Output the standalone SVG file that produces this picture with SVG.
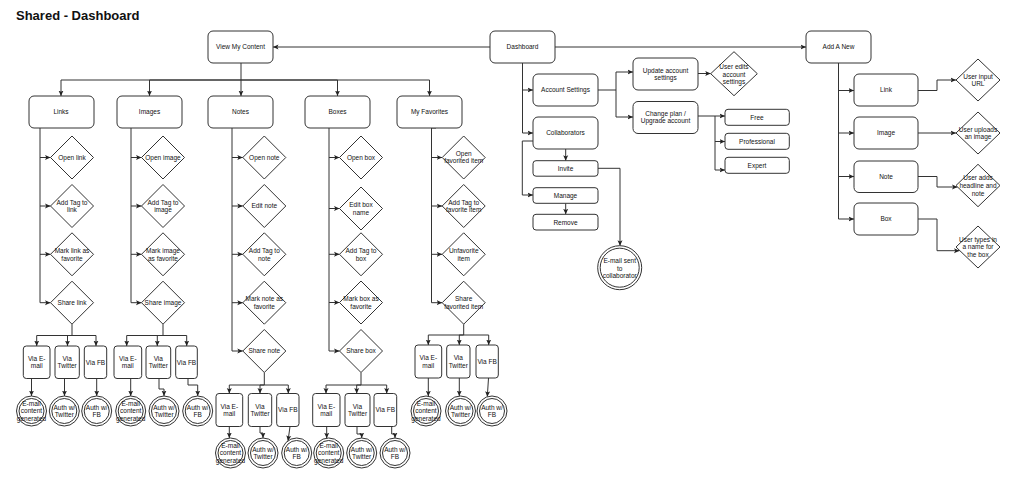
<svg xmlns="http://www.w3.org/2000/svg" width="1012" height="481" viewBox="0 0 1012 481">
<defs>
<marker id="a" markerWidth="6" markerHeight="6" refX="5.5" refY="3" orient="auto" markerUnits="userSpaceOnUse"><path d="M0,0.5 L5.5,3 L0,5.5 L1.3,3 Z" fill="#222"/></marker>
<style>
.b{fill:#fff;stroke:#333;stroke-width:1}
.e{fill:none;stroke:#333;stroke-width:1}
.m{marker-end:url(#a)}
text{font-family:"Liberation Sans",Arial,Helvetica,sans-serif;font-size:6.5px;fill:#111;text-anchor:middle}
text.title{font-size:13px;font-weight:bold;text-anchor:start}
</style>
</defs>
<rect width="1012" height="481" fill="#fff"/>
<text class="title" x="16" y="19.5">Shared - Dashboard</text>

<g id="connectors">
<path class="e m" d="M490,47 H273"/>
<path class="e m" d="M555,47 H806"/>
<path class="e m" d="M241,63 V96"/>
<path class="e m" d="M241,80 H61 V96"/>
<path class="e m" d="M241,80 H149.5 V96"/>
<path class="e m" d="M241,80 H337.5 V96"/>
<path class="e m" d="M241,80 H429.5 V96"/>
<!-- links -->
<path class="e" d="M40,128 V302.7"/>
<path class="e m" d="M40,157.5 H50.5"/><path class="e m" d="M40,206 H50.5"/><path class="e m" d="M40,254.3 H50.5"/><path class="e m" d="M40,302.7 H50.5"/>
<!-- images -->
<path class="e" d="M131,128 V302.7"/>
<path class="e m" d="M131,157.5 H141.5"/><path class="e m" d="M131,206 H141.5"/><path class="e m" d="M131,254.3 H141.5"/><path class="e m" d="M131,302.7 H141.5"/>
<!-- notes -->
<path class="e" d="M232,128 V351"/>
<path class="e m" d="M232,157.5 H242.8"/><path class="e m" d="M232,206 H242.8"/><path class="e m" d="M232,254.3 H242.8"/><path class="e m" d="M232,302.7 H242.8"/><path class="e m" d="M232,351 H242.8"/>
<!-- boxes -->
<path class="e" d="M329,128 V351"/>
<path class="e m" d="M329,157.5 H339.5"/><path class="e m" d="M329,208.5 H339.5"/><path class="e m" d="M329,254.3 H339.5"/><path class="e m" d="M329,302.5 H339.5"/><path class="e m" d="M329,351 H339.5"/>
<!-- favorites -->
<path class="e" d="M436,128 H431.5 V302.7"/>
<path class="e m" d="M431.5,157.5 H442.2"/><path class="e m" d="M431.5,206 H442.2"/><path class="e m" d="M431.5,254.3 H442.2"/><path class="e m" d="M431.5,302.7 H442.2"/>
<!-- share links -->
<path class="e m" d="M72,324.2 V335.5 H36.7 V346"/>
<path class="e m" d="M72,335.5 H67.5 V346"/>
<path class="e m" d="M72,335.5 H96 V346"/>
<path class="e m" d="M31.5,378.5 V396"/>
<path class="e m" d="M64.5,378.5 V396"/>
<path class="e m" d="M96.7,378.5 V396"/>
<!-- share images -->
<path class="e m" d="M163,324.2 V335.5 H126.7 V346"/>
<path class="e m" d="M163,335.5 H157.3 V346"/>
<path class="e m" d="M163,335.5 H186.7 V346"/>
<path class="e m" d="M130.7,378.5 V396"/>
<path class="e m" d="M159,378.5 V389 H164 V396"/>
<path class="e m" d="M188,378.5 V385 H197.7 V396"/>
<!-- share notes -->
<path class="e m" d="M264.3,372.5 V385 H229.3 V393.5"/>
<path class="e m" d="M264.3,385 H260 V393.5"/>
<path class="e m" d="M264.3,385 H288.3 V393.5"/>
<path class="e m" d="M229.3,426.5 V438"/>
<path class="e m" d="M260,426.5 V433 H263 V438"/>
<path class="e m" d="M290,426.5 L288,441"/>
<!-- share boxes -->
<path class="e m" d="M361,372.5 V385 H326 V393.5"/>
<path class="e m" d="M361,385 H356.7 V393.5"/>
<path class="e m" d="M361,385 H386.7 V393.5"/>
<path class="e m" d="M326.7,426.5 V438.2"/>
<path class="e m" d="M357,426.5 V434 H361.7 V438"/>
<path class="e m" d="M391.7,426.5 V434 H395 V438"/>
<!-- share favorites -->
<path class="e m" d="M463.7,324.2 V335 H428.3 V345"/>
<path class="e m" d="M463.7,335 H459.3 V345"/>
<path class="e m" d="M463.7,335 H488.7 V345"/>
<path class="e m" d="M428.3,378 V396.2"/>
<path class="e m" d="M459.3,378 V396"/>
<path class="e m" d="M488.5,378 L487.3,396.8"/>
<!-- dashboard side -->
<path class="e m" d="M522.5,63 V133 H533"/>
<path class="e m" d="M522.5,90 H533"/>
<path class="e m" d="M598,90 H616 V72 H633"/>
<path class="e m" d="M616,90 V117 H633"/>
<path class="e m" d="M698,73.5 H710.7"/>
<path class="e m" d="M698,116 H725"/>
<path class="e m" d="M715,116 V170 H725"/>
<path class="e m" d="M715,141.5 H725"/>
<path class="e m" d="M565.7,149 V160.7"/>
<path class="e m" d="M533,141 H522.3 V195 H533"/>
<path class="e m" d="M565.7,203.3 V214.3"/>
<path class="e m" d="M598,168.3 H620 V245.7"/>
<!-- add a new side -->
<path class="e m" d="M838.5,63 V219 H854"/>
<path class="e m" d="M838.5,90.5 H854"/>
<path class="e m" d="M838.5,133 H854"/>
<path class="e m" d="M838.5,176.5 H854"/>
<path class="e m" d="M918,90.5 H937 V80 H956"/>
<path class="e m" d="M918,133 H956"/>
<path class="e m" d="M918,176.5 H937 V187 H957.5"/>
<path class="e m" d="M918,219 H937 V250.7 H959.5"/>
</g>

<g id="view-my-content"><rect class="b" x="208" y="31" width="65" height="32" rx="5"/><text x="240.5" y="49.3">View My Content</text></g>
<g id="dashboard"><rect class="b" x="490" y="31" width="65" height="32" rx="5"/><text x="522.5" y="49.3">Dashboard</text></g>
<g id="add-a-new"><rect class="b" x="806" y="31" width="65" height="32" rx="5"/><text x="838.5" y="49.3">Add A New</text></g>

<g id="links"><rect class="b" x="29" y="96" width="65" height="32" rx="5"/><text x="61" y="114.3">Links</text></g>
<g id="images"><rect class="b" x="117" y="96" width="65" height="32" rx="5"/><text x="149.5" y="114.3">Images</text></g>
<g id="notes"><rect class="b" x="208" y="96" width="65" height="32" rx="5"/><text x="240.5" y="114.3">Notes</text></g>
<g id="boxes"><rect class="b" x="305" y="96" width="65" height="32" rx="5"/><text x="337.5" y="114.3">Boxes</text></g>
<g id="my-favorites"><rect class="b" x="397" y="96" width="65" height="32" rx="5"/><text x="429.5" y="114.3">My Favorites</text></g>

<!-- links diamonds -->
<g id="open-link"><polygon class="b" points="72,136 93.5,157.5 72,179 50.5,157.5"/><text x="72" y="159.8">Open link</text></g>
<g id="tag-link"><polygon class="b" points="72,184.5 93.5,206 72,227.5 50.5,206"/><text x="72" y="204.5">Add Tag to</text><text x="72" y="212.2">link</text></g>
<g id="fav-link"><polygon class="b" points="72,232.8 93.5,254.3 72,275.8 50.5,254.3"/><text x="72" y="252.8">Mark link as</text><text x="72" y="260.5">favorite</text></g>
<g id="share-link"><polygon class="b" points="72,281.2 93.5,302.7 72,324.2 50.5,302.7"/><text x="72" y="305">Share link</text></g>

<!-- images diamonds -->
<g id="open-image"><polygon class="b" points="163,136 184.5,157.5 163,179 141.5,157.5"/><text x="163" y="159.8">Open image</text></g>
<g id="tag-image"><polygon class="b" points="163,184.5 184.5,206 163,227.5 141.5,206"/><text x="163" y="204.5">Add Tag to</text><text x="163" y="212.2">image</text></g>
<g id="fav-image"><polygon class="b" points="163,232.8 184.5,254.3 163,275.8 141.5,254.3"/><text x="163" y="252.8">Mark image</text><text x="163" y="260.5">as favorite</text></g>
<g id="share-image"><polygon class="b" points="163,281.2 184.5,302.7 163,324.2 141.5,302.7"/><text x="163" y="305">Share image</text></g>

<!-- notes diamonds -->
<g id="open-note"><polygon class="b" points="264.3,136 285.8,157.5 264.3,179 242.8,157.5"/><text x="264.3" y="159.8">Open note</text></g>
<g id="edit-note"><polygon class="b" points="264.3,184.5 285.8,206 264.3,227.5 242.8,206"/><text x="264.3" y="208.3">Edit note</text></g>
<g id="tag-note"><polygon class="b" points="264.3,232.8 285.8,254.3 264.3,275.8 242.8,254.3"/><text x="264.3" y="252.8">Add Tag to</text><text x="264.3" y="260.5">note</text></g>
<g id="fav-note"><polygon class="b" points="264.3,281.2 285.8,302.7 264.3,324.2 242.8,302.7"/><text x="264.3" y="301.2">Mark note as</text><text x="264.3" y="308.9">favorite</text></g>
<g id="share-note"><polygon class="b" points="264.3,329.5 285.8,351 264.3,372.5 242.8,351"/><text x="264.3" y="353.3">Share note</text></g>

<!-- boxes diamonds -->
<g id="open-box"><polygon class="b" points="361,136 382.5,157.5 361,179 339.5,157.5"/><text x="361" y="159.8">Open box</text></g>
<g id="edit-box"><polygon class="b" points="361,187 382.5,208.5 361,230 339.5,208.5"/><text x="361" y="207">Edit box</text><text x="361" y="214.7">name</text></g>
<g id="tag-box"><polygon class="b" points="361,232.8 382.5,254.3 361,275.8 339.5,254.3"/><text x="361" y="252.8">Add Tag to</text><text x="361" y="260.5">box</text></g>
<g id="fav-box"><polygon class="b" points="361,281 382.5,302.5 361,324 339.5,302.5"/><text x="361" y="301">Mark box as</text><text x="361" y="308.7">favorite</text></g>
<g id="share-box"><polygon class="b" points="361,329.5 382.5,351 361,372.5 339.5,351"/><text x="361" y="353.3">Share box</text></g>

<!-- favorites diamonds -->
<g id="open-fav"><polygon class="b" points="463.7,136 485.2,157.5 463.7,179 442.2,157.5"/><text x="463.7" y="155.6">Open</text><text x="463.7" y="163.3">favorited item</text></g>
<g id="tag-fav"><polygon class="b" points="463.7,184.5 485.2,206 463.7,227.5 442.2,206"/><text x="463.7" y="204.5">Add Tag to</text><text x="463.7" y="212.2">favorite item</text></g>
<g id="unfav"><polygon class="b" points="463.7,232.8 485.2,254.3 463.7,275.8 442.2,254.3"/><text x="463.7" y="252.8">Unfavorite</text><text x="463.7" y="260.5">item</text></g>
<g id="share-fav"><polygon class="b" points="463.7,281.2 485.2,302.7 463.7,324.2 442.2,302.7"/><text x="463.7" y="301.2">Share</text><text x="463.7" y="308.9">favorited item</text></g>

<!-- share links group -->
<g id="link-email"><rect class="b" x="23.3" y="346" width="26.7" height="32.5" rx="3"/><text x="36.7" y="360.7">Via E-</text><text x="36.7" y="368.4">mail</text></g>
<g id="link-twitter"><rect class="b" x="55" y="346" width="24.3" height="32.5" rx="3"/><text x="67.2" y="360.7">Via</text><text x="67.2" y="368.4">Twitter</text></g>
<g id="link-fb"><rect class="b" x="84.3" y="346" width="22.4" height="32.5" rx="3"/><text x="95.5" y="364.5">Via FB</text></g>
<g id="link-email-c"><circle class="b" cx="31.5" cy="411" r="15"/><circle class="b" cx="31.5" cy="411" r="12.5"/><text x="31.5" y="405.6">E-mail</text><text x="31.5" y="413.3">content</text><text x="31.5" y="421">generated</text></g>
<g id="link-twitter-c"><circle class="b" cx="64.3" cy="411" r="15"/><circle class="b" cx="64.3" cy="411" r="12.5"/><text x="64.3" y="409.5">Auth w/</text><text x="64.3" y="417.2">Twitter</text></g>
<g id="link-fb-c"><circle class="b" cx="96.7" cy="411" r="15"/><circle class="b" cx="96.7" cy="411" r="12.5"/><text x="96.7" y="409.5">Auth w/</text><text x="96.7" y="417.2">FB</text></g>

<!-- share images group -->
<g id="image-email"><rect class="b" x="114" y="346" width="27.7" height="32.5" rx="3"/><text x="127.8" y="360.7">Via E-</text><text x="127.8" y="368.4">mail</text></g>
<g id="image-twitter"><rect class="b" x="146" y="346" width="24.7" height="32.5" rx="3"/><text x="158.3" y="360.7">Via</text><text x="158.3" y="368.4">Twitter</text></g>
<g id="image-fb"><rect class="b" x="175.7" y="346" width="21.6" height="32.5" rx="3"/><text x="186.5" y="364.5">Via FB</text></g>
<g id="image-email-c"><circle class="b" cx="130.7" cy="411" r="15"/><circle class="b" cx="130.7" cy="411" r="12.5"/><text x="130.7" y="405.6">E-mail</text><text x="130.7" y="413.3">content</text><text x="130.7" y="421">generated</text></g>
<g id="image-twitter-c"><circle class="b" cx="164" cy="411" r="15"/><circle class="b" cx="164" cy="411" r="12.5"/><text x="164" y="409.5">Auth w/</text><text x="164" y="417.2">Twitter</text></g>
<g id="image-fb-c"><circle class="b" cx="197.7" cy="411" r="15"/><circle class="b" cx="197.7" cy="411" r="12.5"/><text x="197.7" y="409.5">Auth w/</text><text x="197.7" y="417.2">FB</text></g>

<!-- share notes group -->
<g id="note-email"><rect class="b" x="216" y="393.5" width="26.7" height="33" rx="3"/><text x="229.3" y="408.5">Via E-</text><text x="229.3" y="416.2">mail</text></g>
<g id="note-twitter"><rect class="b" x="248.3" y="393.5" width="23.4" height="33" rx="3"/><text x="260" y="408.5">Via</text><text x="260" y="416.2">Twitter</text></g>
<g id="note-fb"><rect class="b" x="276.7" y="393.5" width="22.3" height="33" rx="3"/><text x="287.8" y="412.3">Via FB</text></g>
<g id="note-email-c"><circle class="b" cx="230.5" cy="453" r="15"/><circle class="b" cx="230.5" cy="453" r="12.5"/><text x="230.5" y="447.6">E-mail</text><text x="230.5" y="455.3">content</text><text x="230.5" y="463">generated</text></g>
<g id="note-twitter-c"><circle class="b" cx="263" cy="453" r="15"/><circle class="b" cx="263" cy="453" r="12.5"/><text x="263" y="451.5">Auth w/</text><text x="263" y="459.2">Twitter</text></g>
<g id="note-fb-c"><circle class="b" cx="296.7" cy="453" r="15"/><circle class="b" cx="296.7" cy="453" r="12.5"/><text x="296.7" y="451.5">Auth w/</text><text x="296.7" y="459.2">FB</text></g>

<!-- share boxes group -->
<g id="box-email"><rect class="b" x="312.7" y="393.5" width="27.3" height="33" rx="3"/><text x="326.3" y="408.5">Via E-</text><text x="326.3" y="416.2">mail</text></g>
<g id="box-twitter"><rect class="b" x="345" y="393.5" width="25" height="33" rx="3"/><text x="357.5" y="408.5">Via</text><text x="357.5" y="416.2">Twitter</text></g>
<g id="box-fb"><rect class="b" x="374" y="393.5" width="22.7" height="33" rx="3"/><text x="385.3" y="412.3">Via FB</text></g>
<g id="box-email-c"><circle class="b" cx="328.7" cy="453" r="15"/><circle class="b" cx="328.7" cy="453" r="12.5"/><text x="328.7" y="447.6">E-mail</text><text x="328.7" y="455.3">content</text><text x="328.7" y="463">generated</text></g>
<g id="box-twitter-c"><circle class="b" cx="361.7" cy="453" r="15"/><circle class="b" cx="361.7" cy="453" r="12.5"/><text x="361.7" y="451.5">Auth w/</text><text x="361.7" y="459.2">Twitter</text></g>
<g id="box-fb-c"><circle class="b" cx="395" cy="453" r="15"/><circle class="b" cx="395" cy="453" r="12.5"/><text x="395" y="451.5">Auth w/</text><text x="395" y="459.2">FB</text></g>

<!-- share favorites group -->
<g id="fav-email"><rect class="b" x="415" y="345" width="26.7" height="33" rx="3"/><text x="428.3" y="360">Via E-</text><text x="428.3" y="367.7">mail</text></g>
<g id="fav-twitter"><rect class="b" x="446.7" y="345" width="23.3" height="33" rx="3"/><text x="458.3" y="360">Via</text><text x="458.3" y="367.7">Twitter</text></g>
<g id="fav-fb"><rect class="b" x="476" y="345" width="22.3" height="33" rx="3"/><text x="487.1" y="363.8">Via FB</text></g>
<g id="fav-email-c"><circle class="b" cx="426" cy="411" r="15"/><circle class="b" cx="426" cy="411" r="12.5"/><text x="426" y="405.6">E-mail</text><text x="426" y="413.3">content</text><text x="426" y="421">generated</text></g>
<g id="fav-twitter-c"><circle class="b" cx="460.5" cy="411" r="15"/><circle class="b" cx="460.5" cy="411" r="12.5"/><text x="460.5" y="409.5">Auth w/</text><text x="460.5" y="417.2">Twitter</text></g>
<g id="fav-fb-c"><circle class="b" cx="492" cy="411" r="15"/><circle class="b" cx="492" cy="411" r="12.5"/><text x="492" y="409.5">Auth w/</text><text x="492" y="417.2">FB</text></g>

<!-- dashboard side -->
<g id="account-settings"><rect class="b" x="533" y="74" width="65" height="32" rx="5"/><text x="565.5" y="92.3">Account Settings</text></g>
<g id="collaborators"><rect class="b" x="533" y="117" width="65" height="32" rx="5"/><text x="565.5" y="135.3">Collaborators</text></g>
<g id="update-account"><rect class="b" x="633" y="58" width="65" height="32" rx="5"/><text x="665.5" y="72.5">Update account</text><text x="665.5" y="80.2">settings</text></g>
<g id="change-plan"><rect class="b" x="633" y="101.5" width="65" height="32" rx="5"/><text x="665.5" y="115.6">Change plan /</text><text x="665.5" y="123.3">Upgrade account</text></g>
<g id="user-edits"><polygon class="b" points="734,51.7 757.3,73.7 734,95.7 710.7,73.7"/><text x="734" y="69">User edits</text><text x="734" y="76.7">account</text><text x="734" y="84.4">settings</text></g>
<g id="free"><rect class="b" x="725" y="109.3" width="64.3" height="16" rx="3"/><text x="757" y="119.6">Free</text></g>
<g id="professional"><rect class="b" x="725" y="133.3" width="64.3" height="16" rx="3"/><text x="757" y="143.6">Professional</text></g>
<g id="expert"><rect class="b" x="725" y="157.3" width="64.3" height="16" rx="3"/><text x="757" y="167.6">Expert</text></g>
<g id="invite"><rect class="b" x="533" y="160.7" width="65" height="15.5" rx="3"/><text x="565.5" y="170.8">Invite</text></g>
<g id="manage"><rect class="b" x="533" y="187.7" width="65" height="15.6" rx="3"/><text x="565.5" y="197.8">Manage</text></g>
<g id="remove"><rect class="b" x="533" y="214.3" width="65" height="15.7" rx="3"/><text x="565.5" y="224.5">Remove</text></g>
<g id="email-sent"><circle class="b" cx="619.7" cy="267.7" r="22"/><circle class="b" cx="619.7" cy="267.7" r="19.5"/><text x="619.7" y="263">E-mail sent</text><text x="619.7" y="270.6">to</text><text x="619.7" y="278.3">collaborator</text></g>

<!-- add a new side -->
<g id="new-link"><rect class="b" x="854" y="74" width="64" height="32" rx="5"/><text x="886" y="92.3">Link</text></g>
<g id="new-image"><rect class="b" x="854" y="117" width="64" height="32" rx="5"/><text x="886" y="135.3">Image</text></g>
<g id="new-note"><rect class="b" x="854" y="161" width="64" height="31.5" rx="5"/><text x="886" y="179">Note</text></g>
<g id="new-box"><rect class="b" x="854" y="203" width="64" height="32" rx="5"/><text x="886" y="221.3">Box</text></g>
<g id="input-url"><polygon class="b" points="978,59 1000,80 978,101 956,80"/><text x="978" y="78.5">User input</text><text x="978" y="86.2">URL</text></g>
<g id="upload-image"><polygon class="b" points="978,112 1000,133 978,154 956,133"/><text x="978" y="131.5">User uploads</text><text x="978" y="139.2">an image</text></g>
<g id="adds-note"><polygon class="b" points="978,164.3 1000,185.5 978,206.7 956,185.5"/><text x="978" y="180.1">User adds</text><text x="978" y="187.8">headline and</text><text x="978" y="195.5">note</text></g>
<g id="types-name"><polygon class="b" points="978,226 1000,247 978,268 956,247"/><text x="978" y="241.6">User types in</text><text x="978" y="249.3">a name for</text><text x="978" y="257">the box</text></g>
</svg>
